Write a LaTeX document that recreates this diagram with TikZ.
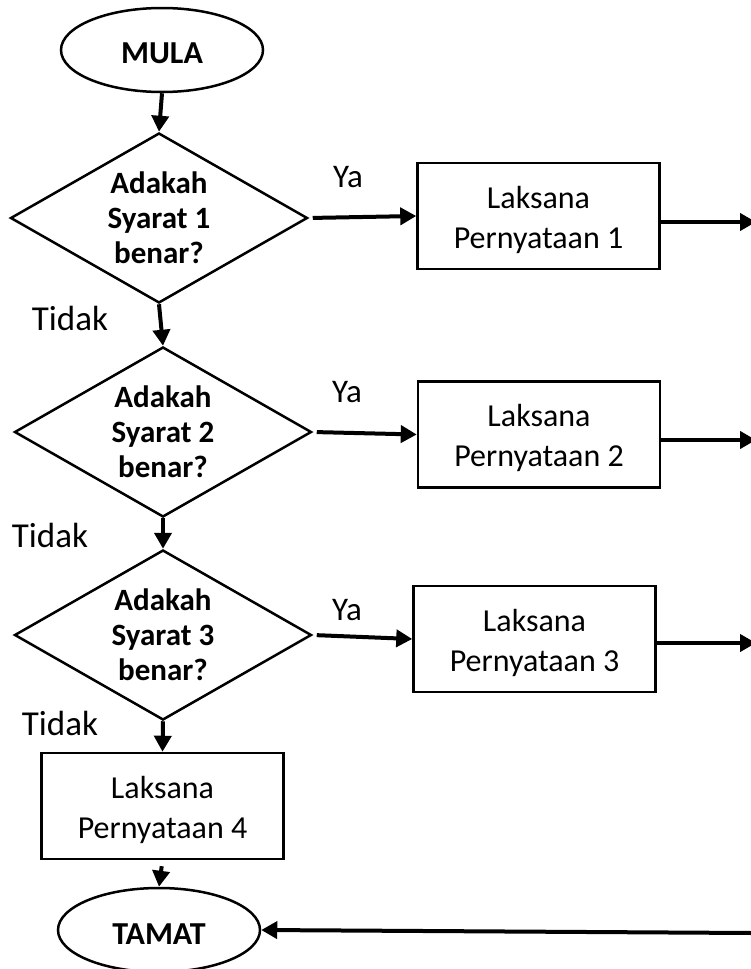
\documentclass[tikz,border=0pt]{standalone}
\usepackage{fontspec}
\setmainfont{Carlito}
\usetikzlibrary{shapes.geometric,arrows.meta}

\tikzset{
  terminal/.style={ellipse, draw, line width=2.5pt, minimum width=202pt, minimum height=84pt,
    inner sep=0pt, text height=28pt, font=\fontsize{32}{38}\selectfont\bfseries},
  decision/.style={diamond, draw, line width=2.5pt, aspect=1.75, inner sep=0pt,
    minimum width=297pt, minimum height=170pt, align=center,
    font=\fontsize{31}{35}\selectfont\bfseries},
  process/.style={rectangle, draw, line width=2.5pt, minimum width=242pt, minimum height=106pt,
    align=center, inner sep=0pt, text height=70pt, font=\fontsize{32}{40}\selectfont},
  flow/.style={line width=4pt, -{Triangle[length=16pt,width=17pt]}},
  answer/.style={font=\fontsize{33}{38}\selectfont},
  refusal/.style={font=\fontsize{35}{40}\selectfont}
}

\begin{document}
\begin{tikzpicture}[x=1pt,y=-1pt]
\useasboundingbox (0,0) rectangle (751,969);

% start and end
\node[terminal] (mula) at (162,50) {MULA};
\node[terminal] (tamat) at (159,930) {TAMAT};

% conditions
\node[decision] (d1) at (159,218) {Adakah\\Syarat 1\\benar?};
\node[decision] (d2) at (163,432) {Adakah\\Syarat 2\\benar?};
\node[decision] (d3) at (163,635) {Adakah\\Syarat 3\\benar?};

% statements
\node[process] (b1) at (538.5,216) {Laksana\\Pernyataan 1};
\node[process] (b2) at (539,434.5) {Laksana\\Pernyataan 2};
\node[process] (b3) at (534.5,639) {Laksana\\Pernyataan 3};
\node[process] (b4) at (162.5,806) {Laksana\\Pernyataan 4};

% loose ends at the right margin
\coordinate (o1) at (756,222);
\coordinate (o2) at (756,440);
\coordinate (o3) at (756,643);
\coordinate (o4) at (752,933);

% branch labels
\node[answer] (ya1) at (348,177) {Ya};
\node[answer] (ya2) at (347,392) {Ya};
\node[answer] (ya3) at (347,610) {Ya};
\node[refusal] (t1) at (70,318) {Tidak};
\node[refusal] (t2) at (50,535) {Tidak};
\node[refusal] (t3) at (60,723) {Tidak};

% main path
\draw[flow] (mula.south) -- (d1.north);
\draw[flow] (d1.south) -- (d2.north);
\draw[flow] (d2.south) -- (d3.north);
\draw[flow] (d3.south) -- (b4.north);
\draw[flow, shorten <=6pt] (b4.south) -- (tamat.north);

% yes branches
\draw[flow, shorten <=4pt] (d1.east) -- (b1.west);
\draw[flow, shorten <=4pt] (d2.east) -- (b2.west);
\draw[flow, shorten <=4pt] (d3.east) -- (b3.west);

% statement outputs
\draw[flow] (b1.east |- o1) -- (o1);
\draw[flow] (b2.east |- o2) -- (o2);
\draw[flow] (b3.east |- o3) -- (o3);
\draw[flow] (o4) -- (tamat.east);
\end{tikzpicture}
\end{document}
